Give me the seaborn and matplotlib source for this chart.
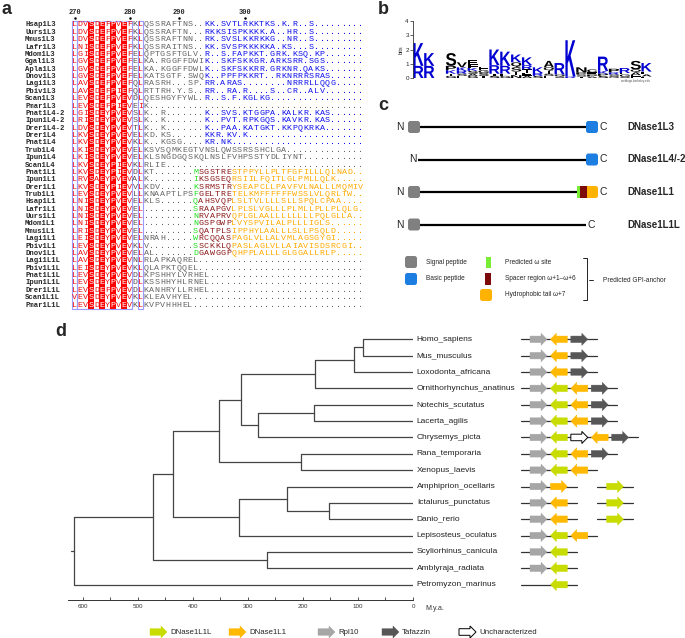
import numpy as np
import pandas as pd
import matplotlib
matplotlib.use("Agg")
import matplotlib.pyplot as plt
import seaborn as sns
from matplotlib.colors import ListedColormap
from matplotlib.patches import Rectangle, FancyBboxPatch, Polygon, PathPatch
from matplotlib.textpath import TextPath
from matplotlib.font_manager import FontProperties
from matplotlib.transforms import Affine2D

# ---------------- panel a: C-terminal alignment
aln_names = ["Hsap1L3", "Uurs1L3", "Mmus1L3", "Lafr1L3", "Mdom1L3", "Ggal1L3", "Apla1L3",
             "Dnov1L3", "Lagi1L3", "Pbiv1L3", "Scan1L3", "Pmar1L3", "Pnat1L4-2", "Ipun1L4-2",
             "Drer1L4-2", "Drer1L4", "Pnat1L4", "Trub1L4", "Ipun1L4", "Scan1L4", "Pnat1L1",
             "Ipun1L1", "Drer1L1", "Trub1L1", "Hsap1L1", "Lafr1L1", "Uurs1L1", "Mdom1L1",
             "Mmus1L1", "Lagi1L1", "Pbiv1L1", "Dnov1L1", "Lagi1L1L", "Pbiv1L1L", "Pnat1L1L",
             "Ipun1L1L", "Drer1L1L", "Scan1L1L", "Pmar1L1L"]
aln_seqs = [
    "LDVSDEFPVEFKL" "QSSRAFTNS.." "KK.SVTLRKKTKS.K.R..S",
    "LDVSDEFPVEFKL" "QSSRAFTN..." "RKKSISPKKKK.A..HR..S",
    "LDVSDEFPVEFKL" "QSSRAFTNN.." "RK.SVSLKKRKKG..NR..S",
    "LNISDEFPVEFKL" "QSSRAITNS.." "KK.SVSPKKKKKA.KS...S",
    "LGISDEFPVEFEL" "QPTGSFTGLV." "R..S.FAPKKT.GRK.KSQ.KP",
    "LGVSDEFPVEFEL" "KA.RGGFFDWI" "K..SKFSKKGR.ARKSRR.SGS",
    "LGVSDEFPVEFEL" "KA.KGGFFDWL" "K..SKFSKKRR.GRKNR.QAKS",
    "LGVSDEFPVEFEL" "KATSGTF.SWQ" "K..PPFPKKRT..RKNRRRSRAS",
    "LAVSDEFPVEFQL" "RASRH...SP." "RR.ARAS........NRRRLLQQG",
    "LAVSDEFPIEFQL" "RTTRH.Y.S.." "RR..RA.R....S..CR..ALV",
    "LEVSDEFPVEVDL" "QESHGYFYWL." "R..S.F.KGLKG",
    "LEVSDEFPIEVEI" "K",
    "LGISDEYPVEVSL" "K..R......." "K..SVS.KTGGPA.KALKR.KAS",
    "LRISDEYPVEVSL" "K..K......." "K..PVT.RPKGQS.KAVKR.KAS",
    "LDVSDEYPVEVTL" "K..K......." "K..PAA.KATGKT.KKPQKRKA",
    "LKVSDEYPVEVEL" "KD.KS......" "KKR.KV.K",
    "LKVSDEYPVEVKL" "K..KGSG...." "KR.NK",
    "LKISDEYPVEVEL" "KSVSQMKEGTVNSLQWSSRSSHCLGA",
    "LKISDEYPVEVEL" "KLSNGDGQSKQLNSLFVHPSSTYDLIYNT",
    "LKVSDEYPIEVKL" "RLIE",
    "LKVSDEYPIEVDL" "KT......." "M" "SGSTRE" "STPPYLLPLTFGFILLLQLNAD",
    "LRVSAEYPVEVAL" "K........" "I" "KSGSEQ" "RSIILFQITLGLPMLLQLK",
    "LKVSDEYPIEVVL" "KDV......" "K" "SRMSTR" "YSEAPCLLPAVFVLNALLLMQMIV",
    "LEVSDEYPVEVLL" "KNAAPTLPS" "F" "GELTRE" "TELKMFFFFFFWSSLVLQRLTW",
    "LNISDEYPVEVEL" "KLS......" "Q" "AHSVQP" "LSLTVLLLLSLLSPQLCPAA",
    "LNISDEYPVEVEL" "........." "S" "RAAPGV" "LPLSLVGLLLPLMLLPLLPLQLG",
    "LNISDEYPVEVEL" "........." "N" "RVAPRV" "QPLGLAALLLLLLLLPQLGLLA",
    "LNISDEYPVEVEL" "........." "N" "GSPGWP" "LVYSPVILALPLLLIGLS",
    "LRISDEYPVEVEL" "........." "S" "QATPLS" "IPPHYLAALLLSLLPSQLD",
    "LEISDEYPVEVEL" "NRAH....." "W" "RCQQAS" "PAGLVLLALVMLAGSGYGI",
    "LEVSDEYPVEVKL" "V........" "S" "SCKKLQ" "PASLAGLVLLAIAVISDSRCGI",
    "LAVSDEYPVEVEL" "AL......." "D" "GAWGGP" "QHPPLALLLGLGGALLRLP",
    "LAVSDEYPVEVNL" "RLAPKAQREL",
    "LEISDEYPVEVKL" "QLAPKTQQEL",
    "LEVSDEYPVEVDL" "KPSHHYLVRHEL",
    "LEVSDEYPVEVDL" "KSSHHYHLRNEL",
    "LEVSDEFPVEVDL" "KANHRYLLRHEL",
    "VEVSDEYPVEVKL" "KLEAVHYEL",
    "LEVSDEYPVEVKL" "KVPVHHHEL",
]
aln_tail_type = ["basic"] * 11 + ["none"] + ["basic"] * 5 + ["none"] * 3 + ["gpi"] * 12 + ["none"] * 7
ruler_labels = [270, 280, 290, 300]
ruler_cols = [0, 10, 19, 31]

# ---------------- panel b: sequence logo (letters bottom -> top, bits)
logo_letters = ["RK", "RK", "", "GTKPS", "ESRKV", "GASKFE", "TSGE", "STRK", "GERK", "NTSQK",
                "AETRK", "SRK", "ESTQA", "SQR", "RK", "TSPN", "APEC", "SPKR", "QSRP", "SGER",
                "LEAQS", "EALK"]
logo_bits = [[0.85, 1.6], [0.85, 0.9], [], [0.15, 0.15, 0.25, 0.3, 0.9],
             [0.15, 0.15, 0.2, 0.25, 0.35], [0.15, 0.15, 0.2, 0.2, 0.25, 0.3],
             [0.15, 0.2, 0.2, 0.25], [0.15, 0.15, 0.6, 1.1], [0.15, 0.15, 0.55, 1.0],
             [0.2, 0.25, 0.3, 0.35, 0.55], [0.15, 0.2, 0.25, 0.3, 0.55], [0.15, 0.2, 0.4],
             [0.15, 0.15, 0.2, 0.25, 0.45], [0.1, 0.15, 0.8], [0.1, 2.55],
             [0.1, 0.15, 0.15, 0.35], [0.1, 0.15, 0.15, 0.2], [0.15, 0.15, 0.2, 1.0],
             [0.1, 0.15, 0.15, 0.25], [0.1, 0.15, 0.1, 0.35], [0.1, 0.1, 0.2, 0.2, 0.6],
             [0.1, 0.15, 0.2, 0.6]]

# ---------------- panel c: domain architecture
prot_names = ["DNase1L3", "DNase1L4/-2", "DNase1L1", "DNase1L1L"]
prot_signal = [True, False, True, True]
prot_cterm = ["basic", "basic", "gpi", None]

# ---------------- panel d: time tree + synteny
species = ["Homo_sapiens", "Mus_musculus", "Loxodonta_africana", "Ornithorhynchus_anatinus",
           "Notechis_scutatus", "Lacerta_agilis", "Chrysemys_picta", "Rana_temporaria",
           "Xenopus_laevis", "Amphiprion_ocellaris", "Ictalurus_punctatus", "Danio_rerio",
           "Lepisosteus_oculatus", "Scyliorhinus_canicula", "Amblyraja_radiata",
           "Petromyzon_marinus"]
node_names = ["Euarchontoglires", "Placentalia", "Mammalia", "Squamata", "Sauropsida",
              "Amniota", "Anura", "Tetrapoda", "Otophysi", "Teleostei", "Neopterygii",
              "Osteichthyes", "Elasmobranchii", "Gnathostomata", "Vertebrata"]
node_left = ["Homo_sapiens", "Euarchontoglires", "Placentalia", "Notechis_scutatus", "Squamata",
             "Mammalia", "Rana_temporaria", "Amniota", "Ictalurus_punctatus",
             "Amphiprion_ocellaris", "Teleostei", "Tetrapoda", "Scyliorhinus_canicula",
             "Osteichthyes", "Gnathostomata"]
node_right = ["Mus_musculus", "Loxodonta_africana", "Ornithorhynchus_anatinus", "Lacerta_agilis",
              "Chrysemys_picta", "Sauropsida", "Xenopus_laevis", "Anura", "Danio_rerio",
              "Otophysi", "Lepisosteus_oculatus", "Neopterygii", "Amblyraja_radiata",
              "Elasmobranchii", "Petromyzon_marinus"]
node_age = [91, 107, 178, 180, 282, 313, 204, 353, 153, 229, 316, 436, 265, 473, 616]
root_stub_age = 622
time_ticks = [600, 500, 400, 300, 200, 100, 0]

gene_order = [
    ["Rpl10>", "DNase1L1<", "Tafazzin>"],
    ["Rpl10>", "DNase1L1<", "Tafazzin>"],
    ["Rpl10>", "DNase1L1<", "Tafazzin>"],
    ["Rpl10>", "DNase1L1L<", "DNase1L1<", "Tafazzin>"],
    ["Rpl10>", "DNase1L1L<", "DNase1L1<", "Tafazzin>"],
    ["Rpl10>", "DNase1L1L<", "DNase1L1<", "Tafazzin>"],
    ["Rpl10>", "DNase1L1L<", "Uncharacterized>", "DNase1L1<", "Tafazzin>"],
    ["Rpl10>", "DNase1L1L<", "DNase1L1<", "Tafazzin>"],
    ["Rpl10>", "DNase1L1L<", "DNase1L1<"],
    ["Rpl10>", "DNase1L1>", "|", "DNase1L1L>"],
    ["Rpl10>", "DNase1L1<", "|", "DNase1L1L>"],
    ["Rpl10>", "DNase1L1<", "|", "DNase1L1L>"],
    ["Rpl10>", "DNase1L1L<", "DNase1L1<"],
    ["Rpl10>", "DNase1L1L<"],
    ["Rpl10>", "DNase1L1L<"],
    ["-", "DNase1L1L<"],
]
gene_legend = ["DNase1L1L", "DNase1L1", "Rpl10", "Tafazzin", "Uncharacterized"]
gene_colors = ["#c8dc00", "#ffb900", "#a6a6a6", "#575757", "#ffffff"]

# ---------------------------------------------------------------
sns.set_theme(style="white")
plt.rcParams["font.family"] = ["Liberation Sans", "DejaVu Sans"]
W, H = 685, 638
fig = plt.figure(figsize=(W / 100, H / 100), dpi=100)


def px_axes(x0, y0, x1, y1):
    ax = fig.add_axes([x0 / W, 1 - y1 / H, (x1 - x0) / W, (y1 - y0) / H])
    ax.patch.set_alpha(0)
    return ax


# ---- a
ncol = 53
grid = np.array([list(s.ljust(ncol, ".")[:ncol]) for s in aln_seqs])
conserved = [c < 13 and len(set(grid[:, c])) == 1 for c in range(ncol)]
bg = np.tile(np.array(conserved, dtype=float), (len(aln_seqs), 1))
ax_a = px_axes(71.75, 21.3, 363.25, 308.7)
sns.heatmap(pd.DataFrame(bg, index=aln_names), cmap=ListedColormap(["white", "#ff0000"]),
            vmin=0, vmax=1, cbar=False, annot=grid, fmt="", linewidths=0,
            xticklabels=False, yticklabels=False, ax=ax_a,
            annot_kws={"family": "Liberation Mono", "size": 6})


def residue_color(r, c):
    if c < 13:
        if conserved[c]:
            return "white"
        return "#555555" if c == 11 else "#ee1111"
    kind = aln_tail_type[r]
    if kind == "basic" and c >= 24:
        return "#1010ee"
    if kind == "gpi":
        if c == 22:
            return "#22dd22"
        if 23 <= c <= 28:
            return "#8b1a1a"
        if c >= 29:
            return "#ffaa00"
    return "#666666"


for t in ax_a.texts:
    x, y = t.get_position()
    t.set_color(residue_color(int(y), int(x)))

for c0, w in [(0, 1), (1, 10), (12, 1)]:
    ax_a.add_patch(Rectangle((c0, -0.1), w, len(aln_seqs) + 0.2, fill=False,
                             ec="#9a9aff", lw=0.8, clip_on=False))
for r, name in enumerate(aln_names):
    ax_a.text(-8.5, r + 0.5, name, ha="left", va="center", fontsize=5.2,
              family="Liberation Mono", fontweight="bold", clip_on=False)
for lab, c in zip(ruler_labels, ruler_cols):
    ax_a.text(c + 0.5, -1.15, str(lab), ha="center", va="center", fontsize=5,
              family="Liberation Mono", fontweight="bold", clip_on=False)
    ax_a.plot([c + 0.5], [-0.45], marker="o", ms=0.8, color="black", clip_on=False)
ax_a.set_xlim(0, ncol)
ax_a.set_ylim(len(aln_seqs), 0)

# ---- b
ax_b = px_axes(413, 21, 652, 78)
logo_font = FontProperties(family="Liberation Sans", weight="bold")


def draw_letter(ax, ch, x, y, w, h, color):
    tp = TextPath((0, 0), ch, size=1, prop=logo_font)
    bb = tp.get_extents()
    tr = Affine2D().translate(-bb.x0, -bb.y0).scale(w / bb.width, h / bb.height).translate(x, y)
    ax.add_patch(PathPatch(tr.transform_path(tp), fc=color, ec="none"))


for i, (letters, bits) in enumerate(zip(logo_letters, logo_bits)):
    base = 0.0
    for ch, b in zip(letters, bits):
        draw_letter(ax_b, ch, i + 0.53, base, 0.94, b, "#0000d0" if ch in "KRH" else "black")
        base += b
ax_b.set_xlim(0.5, len(logo_letters) + 0.5)
ax_b.set_ylim(0, 4)
for s in ["top", "right", "bottom"]:
    ax_b.spines[s].set_visible(False)
ax_b.spines["left"].set_color("#333333")
ax_b.spines["left"].set_linewidth(0.6)
ax_b.set_xticks([])
ax_b.set_yticks(range(5))
ax_b.tick_params(axis="y", labelsize=4.5, length=2, width=0.5, pad=1, left=True)
ax_b.set_ylabel("bits", fontsize=4, labelpad=1)
ax_b.text(len(logo_letters) + 0.3, -0.08, "weblogo.berkeley.edu", fontsize=2.2,
          ha="right", va="top", color="#555555")

# ---- d tree
leaf_y = {sp: i for i, sp in enumerate(species)}
pos_y, pos_age = dict(leaf_y), {sp: 0 for sp in species}
rows = []
for k, (nm, a, b, age) in enumerate(zip(node_names, node_left, node_right, node_age)):
    ny = (pos_y[a] + pos_y[b]) / 2
    for ch in (a, b):
        eid = f"{nm}-{ch}"
        rows += [(eid, age, ny), (eid, age, pos_y[ch]), (eid, pos_age[ch], pos_y[ch])]
    pos_y[nm], pos_age[nm] = ny, age
rows += [("root", root_stub_age, pos_y["Vertebrata"]), ("root", node_age[-1], pos_y["Vertebrata"])]
edges = pd.DataFrame(rows, columns=["edge", "age", "y"])

ax_t = px_axes(68, 330, 413, 600)
sns.lineplot(data=edges, x="age", y="y", units="edge", estimator=None, sort=False,
             color="#444444", lw=0.9, ax=ax_t, legend=False)
ax_t.set_xlim(627, 0)
ax_t.set_ylim(15.94, -0.57)
ax_t.set_xlabel("")
ax_t.set_ylabel("")
ax_t.set_yticks([])
for s in ["top", "right", "left"]:
    ax_t.spines[s].set_visible(False)
ax_t.spines["bottom"].set_color("#333333")
ax_t.spines["bottom"].set_linewidth(0.7)
ax_t.set_xticks(time_ticks)
ax_t.set_xticks([t + 50 for t in time_ticks[1:]], minor=True)
ax_t.tick_params(axis="x", which="both", bottom=True, direction="in", length=2.5,
                 width=0.6, labelsize=4.5, pad=3, colors="#333333")
for sp, i in leaf_y.items():
    ax_t.text(-7, i, sp, ha="left", va="center", fontsize=6, color="#222222", clip_on=False)

# ---- d synteny arrows
ax_g = px_axes(510, 330, 650, 600)
ax_g.set_xlim(-1.397, 5.466)
ax_g.set_ylim(15.94, -0.57)
ax_g.axis("off")
color_of = dict(zip(gene_legend, gene_colors))


def arrow_pts(xc, yc, direction, length, head_len, body_hh, head_hh):
    x0, x1 = xc - length / 2, xc + length / 2
    if direction > 0:
        xb = x1 - head_len
        return [(x0, yc - body_hh), (xb, yc - body_hh), (xb, yc - head_hh), (x1, yc),
                (xb, yc + head_hh), (xb, yc + body_hh), (x0, yc + body_hh)]
    xb = x0 + head_len
    return [(x1, yc - body_hh), (xb, yc - body_hh), (xb, yc - head_hh), (x0, yc),
            (xb, yc + head_hh), (xb, yc + body_hh), (x1, yc + body_hh)]


def add_gene(ax, gene, xc, yc, direction, dims):
    ec = "black" if gene == "Uncharacterized" else color_of[gene]
    ax.add_patch(Polygon(arrow_pts(xc, yc, direction, *dims), closed=True,
                         fc=color_of[gene], ec=ec, lw=0.7 if gene == "Uncharacterized" else 0.3,
                         zorder=3))


for i, genes in enumerate(gene_order):
    slot, seg_start, segs = 0.0, -0.87, []
    for g in genes:
        if g == "|":
            segs.append((seg_start, slot - 1 + 0.87))
            slot += 1.75
            seg_start = slot - 0.9
            continue
        if g != "-":
            add_gene(ax_g, g[:-1], slot, i, 1 if g.endswith(">") else -1,
                     (0.83, 0.29, 0.2, 0.37))
        slot += 1
    segs.append((seg_start, slot - 1 + 0.87))
    for a, b in segs:
        ax_g.plot([a, b], [i, i], color="#333333", lw=0.9, zorder=1)

# ---- overlay: labels, panel c, legends
ov = px_axes(0, 0, W, H)
ov.set_xlim(0, W)
ov.set_ylim(H, 0)
ov.axis("off")
for lab, (x, y) in zip("abcd", [(1, 9), (378, 9), (378, 105), (55, 331)]):
    ov.text(x, y, lab, fontsize=13, fontweight="bold", ha="left", va="center")
ov.text(425, 609, "M.y.a.", fontsize=5, ha="left", va="center", color="#333333")

GREY, BLUE = "#808080", "#1c7ee0"
GREEN, DARKRED, ORANGE = "#77ee33", "#7d0a0a", "#ffb300"


def rbox(x, y, w, h, color):
    ov.add_patch(FancyBboxPatch((x, y), w, h, boxstyle="round,pad=0,rounding_size=2.5",
                                fc=color, ec="none", zorder=3))


for i, name in enumerate(prot_names):
    y = 127 + 32.5 * i
    x_start = 420 if prot_signal[i] else 418
    x_end = {"basic": 587, "gpi": 578, None: 586}[prot_cterm[i]]
    ov.plot([x_start, x_end], [y, y], color="black", lw=1.6, solid_capstyle="butt")
    if prot_signal[i]:
        rbox(408, y - 6, 12, 12, GREY)
        ov.text(404, y, "N", ha="right", va="center", fontsize=7.5)
    else:
        ov.text(417, y, "N", ha="right", va="center", fontsize=7.5)
    if prot_cterm[i] == "basic":
        rbox(586, y - 6, 12, 12, BLUE)
        ov.text(600, y, "C", ha="left", va="center", fontsize=7.5)
    elif prot_cterm[i] == "gpi":
        rbox(584, y - 6, 14, 12, ORANGE)
        ov.add_patch(Rectangle((580.5, y - 6), 6.5, 12, fc=DARKRED, ec="none", zorder=4))
        ov.add_patch(Rectangle((577, y - 6), 3.5, 12, fc=GREEN, ec="none", zorder=4))
        ov.text(600, y, "C", ha="left", va="center", fontsize=7.5)
    else:
        ov.text(587.5, y, "C", ha="left", va="center", fontsize=7.5)
    ov.text(627, y, name, ha="left", va="center", fontsize=7, fontweight="bold")

rbox(405, 256, 12, 12, GREY)
ov.text(426, 262, "Signal peptide", fontsize=4.7, ha="left", va="center")
rbox(405, 273, 12, 12, BLUE)
ov.text(426, 279, "Basic peptide", fontsize=4.7, ha="left", va="center")
ov.add_patch(Rectangle((486, 257), 5, 11, fc=GREEN, ec="none"))
ov.text(505, 263, "Predicted ω site", fontsize=4.7, ha="left", va="center")
ov.add_patch(Rectangle((485, 273), 6, 12, fc=DARKRED, ec="none"))
ov.text(505, 279, "Spacer region ω+1–ω+6", fontsize=4.7, ha="left", va="center")
rbox(480, 289, 12, 12, ORANGE)
ov.text(505, 295, "Hydrophobic tail ω+7", fontsize=4.7, ha="left", va="center")
ov.plot([583, 587, 587, 583], [258, 258, 300, 300], color="black", lw=0.6)
ov.plot([589, 593], [280, 280], color="black", lw=0.6)
ov.text(603, 280, "Predicted GPI-anchor", fontsize=4.7, ha="left", va="center")

for gene, x0 in zip(gene_legend, [150, 229, 318, 382, 459]):
    add_gene(ov, gene, x0 + 8.5, 632, 1, (17, 6, 3.3, 6))
    ov.text(x0 + 20, 632, gene, fontsize=5.7, ha="left", va="center")

fig.savefig("out.png", dpi=100)
